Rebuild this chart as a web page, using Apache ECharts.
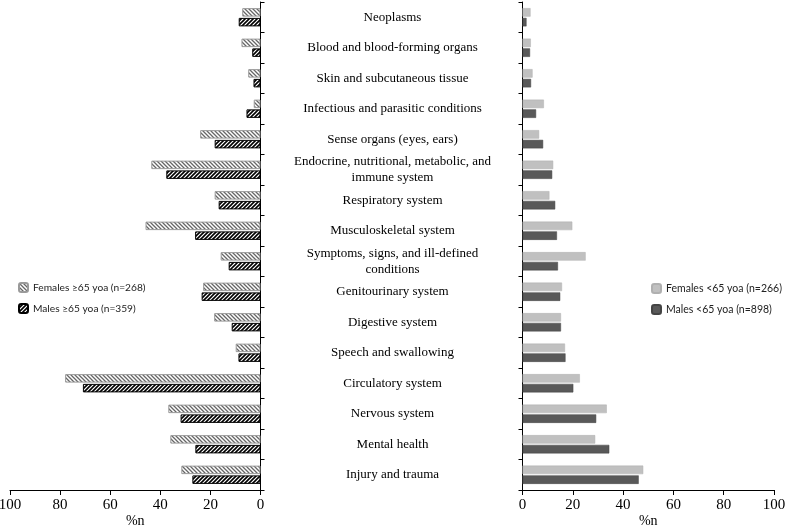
<!DOCTYPE html>
<html>
<head>
<meta charset="utf-8">
<script src="https://cdn.jsdelivr.net/npm/echarts@6/dist/echarts.min.js"></script>
<style>html,body{margin:0;padding:0;background:#fff;}#c{width:785px;height:530px;}</style>
</head>
<body>
<div id="c"></div>
<script>
const categories = [
  'Neoplasms',
  'Blood and blood-forming organs',
  'Skin and subcutaneous tissue',
  'Infectious and parasitic conditions',
  'Sense organs (eyes, ears)',
  'Endocrine, nutritional, metabolic, and\nimmune system',
  'Respiratory system',
  'Musculoskeletal system',
  'Symptoms, signs, and ill-defined\nconditions',
  'Genitourinary system',
  'Digestive system',
  'Speech and swallowing',
  'Circulatory system',
  'Nervous system',
  'Mental health',
  'Injury and trauma'
];
const femalesOld = [7.3, 7.6, 4.9, 2.7, 24.1, 43.6, 18.3, 45.9, 15.9, 22.9, 18.5, 9.9, 78.0, 36.8, 36.0, 31.6];
const malesOld   = [8.7, 3.3, 2.8, 5.6, 18.3, 37.6, 16.7, 26.1, 12.7, 23.5, 11.5, 8.8, 70.9, 31.9, 26.0, 27.2];
const femalesYoung = [3.2, 3.3, 4.0, 8.5, 6.6, 12.2, 10.7, 19.8, 25.1, 15.7, 15.3, 16.9, 22.8, 33.5, 28.9, 48.0];
const malesYoung   = [1.6, 3.0, 3.4, 5.4, 8.2, 11.8, 13.0, 13.7, 14.1, 15.0, 15.3, 17.1, 20.2, 29.3, 34.5, 46.2];
const xTicks = [0, 20, 40, 60, 80, 100];

function hatch(dir, stroke, lw) {
  const s = 4;
  const c = document.createElement('canvas');
  c.width = s; c.height = s;
  const g = c.getContext('2d');
  g.fillStyle = '#fff'; g.fillRect(0, 0, s, s);
  g.strokeStyle = stroke; g.lineWidth = lw;
  g.beginPath();
  if (dir === 'back') {
    g.moveTo(-1, -1); g.lineTo(s + 1, s + 1);
    g.moveTo(-1 - s, -1); g.lineTo(1, s + 1);
    g.moveTo(s - 1, -1); g.lineTo(2 * s + 1, s + 1);
  } else {
    g.moveTo(-1, s + 1); g.lineTo(s + 1, -1);
    g.moveTo(-1 - s, s + 1); g.lineTo(1, -1);
    g.moveTo(s - 1, s + 1); g.lineTo(2 * s + 1, -1);
  }
  g.stroke();
  return { image: c, repeat: 'repeat' };
}

const chart = echarts.init(document.getElementById('c'), null, { renderer: 'canvas' });
const serif = 'Liberation Serif';
const axisLine = { show: true, lineStyle: { color: '#000', width: 1 } };
const xAxisCommon = {
  type: 'value', min: 0, max: 100, interval: 20,
  splitLine: { show: false },
  axisLine: axisLine,
  axisTick: { show: true, length: 5, lineStyle: { color: '#000' } },
  axisLabel: { color: '#000', fontFamily: serif, fontSize: 15, margin: 8,
    formatter: v => xTicks.includes(v) ? String(v) : '' },
  name: '%n', nameLocation: 'middle', nameGap: 24, nameMoveOverlap: false,
  nameTextStyle: { color: '#000', fontFamily: serif, fontSize: 14, verticalAlign: 'top' }
};
const barW = 8.5;
chart.setOption({
  animation: false,
  backgroundColor: '#fff',
  grid: [
    { left: 10, right: 524.5, top: 2, bottom: 40, containLabel: false, outerBoundsMode: 'none' },
    { left: 522.5, right: 11, top: 2, bottom: 40, containLabel: false, outerBoundsMode: 'none' }
  ],
  legend: [
    { orient: 'vertical', left: 18, top: 282, padding: 0, itemWidth: 9, itemHeight: 9, itemGap: 10,
      textStyle: { fontFamily: 'Lato', fontSize: 10.2, color: '#222' },
      data: ['Females ≥65 yoa (n=268)', 'Males ≥65 yoa (n=359)'] },
    { orient: 'vertical', left: 651, top: 283, padding: 0, itemWidth: 9, itemHeight: 9, itemGap: 10,
      textStyle: { fontFamily: 'Lato', fontSize: 10.5, color: '#222' },
      data: ['Females <65 yoa (n=266)', 'Males <65 yoa (n=898)'] }
  ],
  xAxis: [
    Object.assign({ gridIndex: 0, inverse: true }, xAxisCommon),
    Object.assign({ gridIndex: 1 }, xAxisCommon)
  ],
  yAxis: [
    { type: 'category', gridIndex: 0, data: categories, inverse: true, position: 'right',
      axisLine: axisLine, axisTick: { show: true, length: 4, lineStyle: { color: '#000' } },
      axisLabel: { show: false }, splitLine: { show: false } },
    { type: 'category', gridIndex: 1, data: categories, inverse: true, position: 'left',
      axisLine: axisLine, axisTick: { show: true, length: 4, lineStyle: { color: '#000' } },
      axisLabel: { show: true, align: 'center', margin: 130, color: '#000',
        fontFamily: serif, fontSize: 13, lineHeight: 16 },
      splitLine: { show: false } }
  ],
  series: [
    { name: 'Females ≥65 yoa (n=268)', type: 'bar', xAxisIndex: 0, yAxisIndex: 0, data: femalesOld,
      barWidth: barW, barGap: '15%',
      itemStyle: { color: hatch('back', '#666', 1.3), borderColor: '#9a9a9a', borderWidth: 1 } },
    { name: 'Males ≥65 yoa (n=359)', type: 'bar', xAxisIndex: 0, yAxisIndex: 0, data: malesOld,
      barWidth: barW, barGap: '15%',
      itemStyle: { color: hatch('fwd', '#000', 1.6), borderColor: '#000', borderWidth: 1 } },
    { name: 'Females <65 yoa (n=266)', type: 'bar', xAxisIndex: 1, yAxisIndex: 1, data: femalesYoung,
      barWidth: barW, barGap: '15%',
      itemStyle: { color: '#c0c0c0', borderColor: '#b0b0b0', borderWidth: 0.5 } },
    { name: 'Males <65 yoa (n=898)', type: 'bar', xAxisIndex: 1, yAxisIndex: 1, data: malesYoung,
      barWidth: barW, barGap: '15%',
      itemStyle: { color: '#595959', borderColor: '#444', borderWidth: 0.5 } }
  ]
});
</script>
</body>
</html>
